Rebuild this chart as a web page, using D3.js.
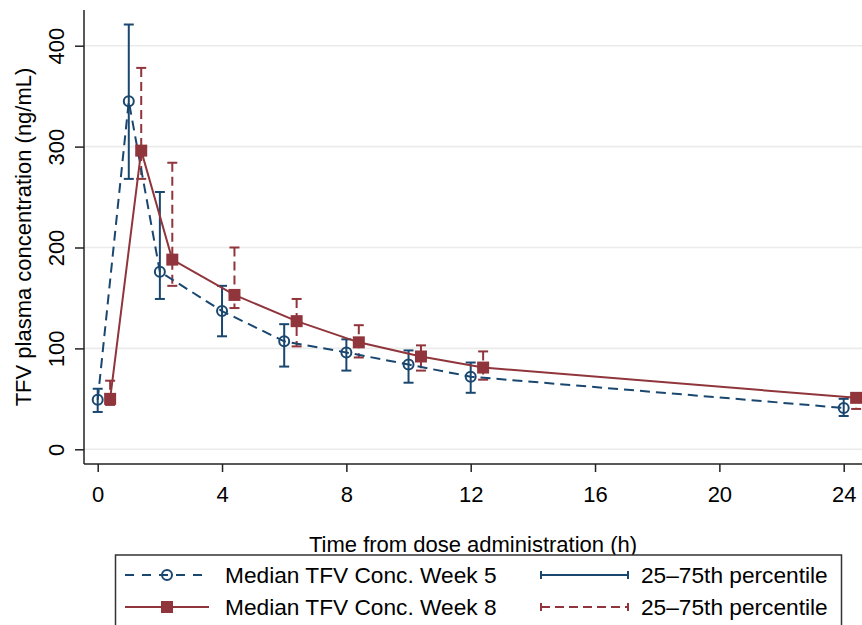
<!DOCTYPE html>
<html>
<head>
<meta charset="utf-8">
<script src="https://cdnjs.cloudflare.com/ajax/libs/d3/7.8.5/d3.min.js"></script>
<style>
body{margin:0;background:#fff}
svg{display:block;font-family:"Liberation Sans",Arial,sans-serif}
</style>
</head>
<body>
<script>
var times5=[0,1,2,4,6,8,10,12,24]
var median5=[49,345,176,137,107,96,84,72,41]
var p25_5=[37,268,149,112,82,78,66,56,33]
var p75_5=[60,421,255,162,124,109,98,86,50]

var times8=[0.4,1.4,2.4,4.4,6.4,8.4,10.4,12.4,24.4]
var median8=[50,296,188,153,127,106,92,81,51]
var p25_8=[44,268,162,140,102,91,78,69,40]
var p75_8=[68,378,284,200,149,123,103,97,55]

var xTicks=[0,4,8,12,16,20,24]
var yTicks=[0,100,200,300,400]
var legendLabels=["Median TFV Conc. Week 5","Median TFV Conc. Week 8","25\u201375th percentile","25\u201375th percentile"]

var blue="#1a476f"
var red="#90353b"

var screen={width:862,height:625}
var plot={left:84,right:862,top:10,bottom:464}

var svg=d3.select("body").append("svg")
  .attr('width',screen.width)
  .attr('height',screen.height)

var xScale=d3.scaleLinear()
    .domain([0,24])
    .range([97.7,843.7])
var yScale=d3.scaleLinear()
    .domain([0,400])
    .range([449.3,45.7])

// gridlines
svg.append("g").selectAll("line").data(yTicks).enter().append("line")
    .attr('x1',plot.left).attr('x2',plot.right)
    .attr('y1',function(d){return yScale(d)})
    .attr('y2',function(d){return yScale(d)})
    .style('stroke','#ebebeb').style('stroke-width',1.6)

// axes
var yAxis=d3.axisLeft(yScale).tickValues(yTicks).tickSize(9).tickPadding(0).tickFormat(d3.format("d"))
var gy=svg.append("g").attr('transform','translate('+plot.left+',0)').call(yAxis)
gy.select(".domain").attr('d','M0,'+plot.top+'V'+plot.bottom)
gy.selectAll("text")
    .attr('transform','translate(-20,0) rotate(-90)')
    .attr('x',0).attr('y',0).attr('dy',0)
    .style('text-anchor','middle')

var xAxis=d3.axisBottom(xScale).tickValues(xTicks).tickSize(8).tickPadding(0)
var gx=svg.append("g").attr('transform','translate(0,'+plot.bottom+')').call(xAxis)
gx.select(".domain").attr('d','M'+plot.left+',0H'+plot.right)
gx.selectAll("text").attr('y',38).attr('dy',0)

svg.selectAll(".tick text").style('font-size','22px').style('fill','#000').style('font-family','"Liberation Sans",Arial,sans-serif')
svg.selectAll(".domain, .tick line").style('stroke','#222').style('stroke-width',1.5)

// titles
svg.append("text")
    .attr('transform','translate(31,'+((plot.top+plot.bottom)/2)+') rotate(-90)')
    .style('text-anchor','middle').style('font-size','22px')
    .text("TFV plasma concentration (ng/mL)")
svg.append("text")
    .attr('x',(plot.left+plot.right)/2+0).attr('y',552)
    .style('text-anchor','middle').style('font-size','22px')
    .text("Time from dose administration (h)")

// error bars
var drawBars=function(times,lo,hi,color,dash){
  var g=svg.append("g").style('stroke',color).style('stroke-width',2).style('fill','none')
  times.forEach(function(t,i){
    g.append("line")
      .attr('x1',xScale(t)).attr('x2',xScale(t))
      .attr('y1',yScale(hi[i])).attr('y2',yScale(lo[i]))
      .style('stroke-dasharray',dash)
    g.append("line")
      .attr('x1',xScale(t)-5).attr('x2',xScale(t)+5)
      .attr('y1',yScale(hi[i])).attr('y2',yScale(hi[i]))
    g.append("line")
      .attr('x1',xScale(t)-5).attr('x2',xScale(t)+5)
      .attr('y1',yScale(lo[i])).attr('y2',yScale(lo[i]))
  })
}
drawBars(times5,p25_5,p75_5,blue,null)
drawBars(times8,p25_8,p75_8,red,"9,5")

// median lines
var line=d3.line()
    .x(function(d){return xScale(d[0])})
    .y(function(d){return yScale(d[1])})
svg.append("path")
    .attr('d',line(d3.zip(times5,median5)))
    .style('fill','none').style('stroke',blue).style('stroke-width',2)
    .style('stroke-dasharray','10,6')
svg.append("path")
    .attr('d',line(d3.zip(times8,median8)))
    .style('fill','none').style('stroke',red).style('stroke-width',2)

svg.append("g").selectAll("circle").data(d3.zip(times5,median5)).enter().append("circle")
    .attr('cx',function(d){return xScale(d[0])})
    .attr('cy',function(d){return yScale(d[1])})
    .attr('r',5)
    .style('fill','none').style('stroke',blue).style('stroke-width',2)
svg.append("g").selectAll("rect").data(d3.zip(times8,median8)).enter().append("rect")
    .attr('x',function(d){return xScale(d[0])-6})
    .attr('y',function(d){return yScale(d[1])-6})
    .attr('width',12).attr('height',12)
    .style('fill',red)

// legend
var lg=svg.append("g")
lg.append("rect")
    .attr('x',115.5).attr('y',555).attr('width',726).attr('height',80)
    .style('fill','#fff').style('stroke','#333').style('stroke-width',1.5)
var rows=[575,607]
lg.append("line").attr('x1',125).attr('x2',209).attr('y1',rows[0]).attr('y2',rows[0])
    .style('stroke',blue).style('stroke-width',2).style('stroke-dasharray','9,8')
lg.append("circle").attr('cx',167).attr('cy',rows[0]).attr('r',5)
    .style('fill','none').style('stroke',blue).style('stroke-width',2)
lg.append("line").attr('x1',125).attr('x2',209).attr('y1',rows[1]).attr('y2',rows[1])
    .style('stroke',red).style('stroke-width',2)
lg.append("rect").attr('x',161).attr('y',rows[1]-6).attr('width',12).attr('height',12)
    .style('fill',red)
var legendBar=function(y,color,dash){
  lg.append("line").attr('x1',541).attr('x2',628).attr('y1',y).attr('y2',y)
      .style('stroke',color).style('stroke-width',2).style('stroke-dasharray',dash)
  lg.append("line").attr('x1',541).attr('x2',541).attr('y1',y-4).attr('y2',y+4)
      .style('stroke',color).style('stroke-width',2)
  lg.append("line").attr('x1',628).attr('x2',628).attr('y1',y-4).attr('y2',y+4)
      .style('stroke',color).style('stroke-width',2)
}
legendBar(rows[0],blue,null)
legendBar(rows[1],red,"9,5")
var labelPos=[[225,rows[0]],[225,rows[1]],[641,rows[0]],[641,rows[1]]]
lg.selectAll("text").data(legendLabels).enter().append("text")
    .attr('x',function(d,i){return labelPos[i][0]})
    .attr('y',function(d,i){return labelPos[i][1]+8})
    .style('font-size','22.7px')
    .text(function(d){return d})
</script>
</body>
</html>
